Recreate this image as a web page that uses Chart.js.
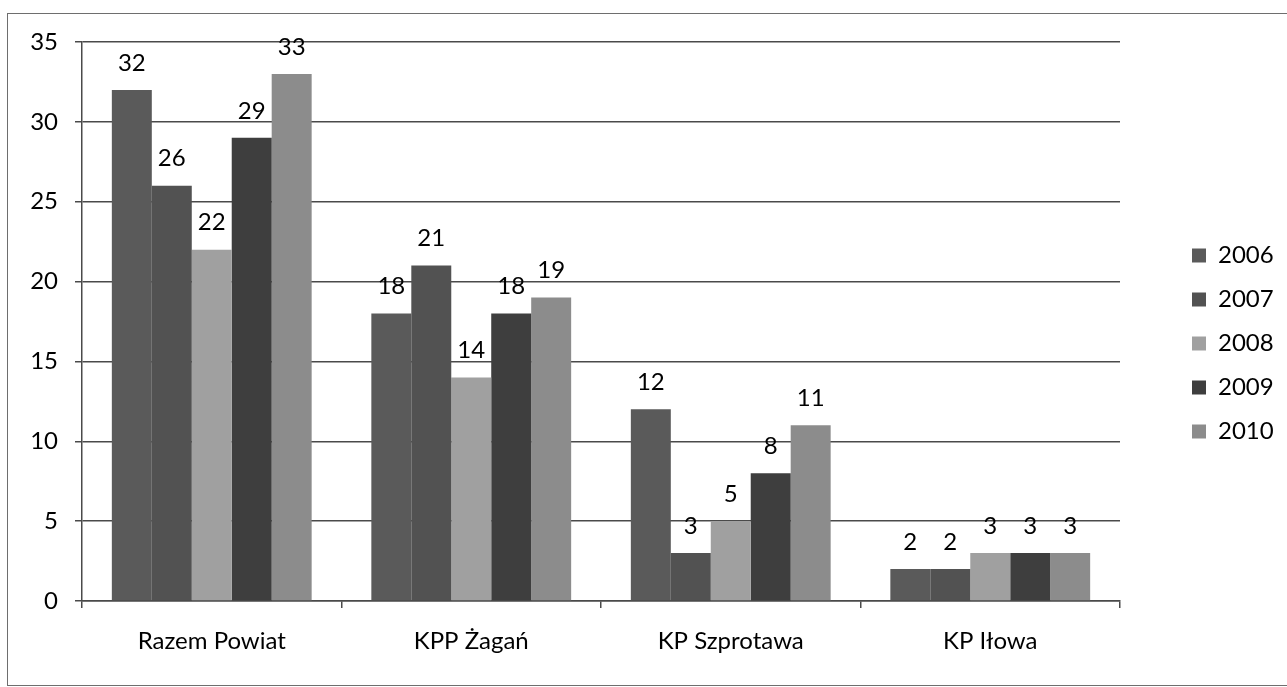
<!DOCTYPE html>
<html>
<head>
<meta charset="utf-8">
<script src="https://cdn.jsdelivr.net/npm/chart.js@4.4.1/dist/chart.umd.min.js"></script>
<style>
  html, body { margin: 0; padding: 0; background: #fff; overflow: hidden; }
  #frame { position: absolute; left: 7px; top: 13px; width: 1300px; height: 671px; border: 1px solid #6e6e6e; }
  #wrap { position: absolute; left: 0; top: 0; width: 1287px; height: 687px; }
</style>
</head>
<body>
<div id="frame"></div>
<div id="wrap"><canvas id="myBarChart"></canvas></div>
<script>
var categories = ["Razem Powiat", "KPP Żagań", "KP Szprotawa", "KP Iłowa"];
var years = ["2006", "2007", "2008", "2009", "2010"];
var values2006 = [32, 18, 12, 2];
var values2007 = [26, 21, 3, 2];
var values2008 = [22, 14, 5, 3];
var values2009 = [29, 18, 8, 3];
var values2010 = [33, 19, 11, 3];
var yMax = 35;
var yStep = 5;
var barColors = ["#5a5a5a", "#525252", "#a0a0a0", "#3e3e3e", "#8c8c8c"];

var allValues = [values2006, values2007, values2008, values2009, values2010];

Chart.defaults.font.family = "Lato";
Chart.defaults.font.size = 24;
Chart.defaults.color = "#000";

// value labels over each bar
var barValues = {
  id: "barValues",
  afterDatasetsDraw: function (chart) {
    var ctx = chart.ctx;
    ctx.save();
    ctx.font = "24px Lato";
    ctx.fillStyle = "#000";
    ctx.textAlign = "center";
    ctx.textBaseline = "middle";
    chart.data.datasets.forEach(function (ds, i) {
      chart.getDatasetMeta(i).data.forEach(function (bar, j) {
        ctx.fillText(ds.data[j], bar.x, bar.y - 27);
      });
    });
    ctx.restore();
  }
};

// legend sits further right and a bit higher than Chart.js puts it
var legendSpot = {
  id: "legendSpot",
  beforeInit: function (chart) {
    var legend = chart.legend;
    var fit = legend.fit;
    legend.fit = function () {
      fit.call(this);
      this.width = 167;
    };
  },
  afterLayout: function (chart) {
    var legend = chart.legend;
    legend.left += 52; legend.right += 52;
    legend.top -= 21; legend.bottom -= 21;
  }
};

var datasets = [];
for (var i = 0; i < years.length; i++) {
  datasets.push({
    label: years[i],
    data: allValues[i],
    backgroundColor: barColors[i],
    borderWidth: 0,
    categoryPercentage: 0.77,
    barPercentage: 1.0
  });
}

new Chart("myBarChart", {
  type: "bar",
  data: {
    labels: categories,
    datasets: datasets
  },
  options: {
    responsive: true,
    maintainAspectRatio: false,
    animation: false,
    layout: { padding: { left: 22, top: 42, right: 0, bottom: 0 } },
    plugins: {
      legend: {
        display: true,
        position: "right",
        labels: { boxWidth: 14, boxHeight: 14, padding: 20, color: "#000" }
      },
      title: { display: false },
      tooltip: { enabled: false }
    },
    scales: {
      x: {
        grid: { drawOnChartArea: false, drawTicks: true, tickLength: 7, color: "#4a4a4a", lineWidth: 1.5, offset: true },
        border: { display: true, color: "#4a4a4a", width: 1.5 },
        ticks: { padding: 19, color: "#000" },
        afterFit: function (scale) { scale.height = 86; }
      },
      y: {
        min: 0,
        max: yMax,
        ticks: { stepSize: yStep, padding: 17, color: "#000" },
        grid: { color: "#4a4a4a", lineWidth: 1.5, tickLength: 7 },
        border: { display: true, color: "#4a4a4a", width: 1.5 },
        afterFit: function (scale) { scale.width = 60; }
      }
    }
  },
  plugins: [barValues, legendSpot]
});
</script>
</body>
</html>
